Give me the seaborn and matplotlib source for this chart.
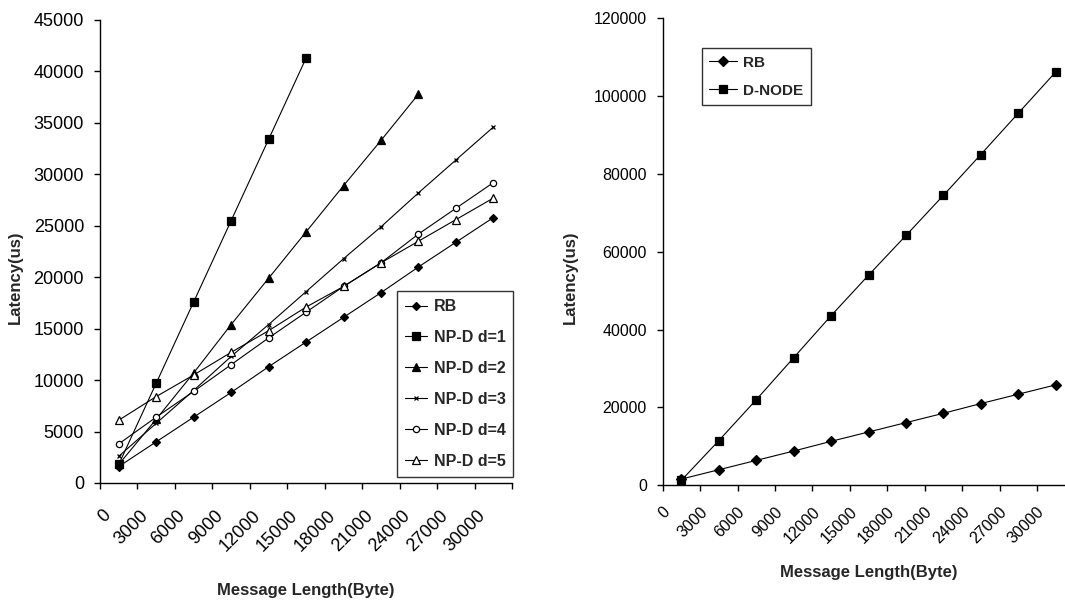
import matplotlib
matplotlib.use("Agg")
import matplotlib.pyplot as plt
import matplotlib.transforms as mtransforms
import seaborn as sns

# Message length (byte), points sit between the category ticks
msg_len = [1500, 4500, 7500, 10500, 13500, 16500, 19500, 22500, 25500, 28500, 31500]

# Latency (us)
rb = [1600, 4000, 6400, 8800, 11300, 13700, 16100, 18500, 21000, 23400, 25800]
npd1 = [1800, 9700, 17600, 25500, 33400, 41300]
npd2 = [1800, 6200, 10700, 15400, 19900, 24400, 28900, 33300, 37800]
npd3 = [2600, 5800, 9000, 12300, 15400, 18600, 21800, 24900, 28200, 31400, 34600]
npd4 = [3800, 6400, 8900, 11500, 14100, 16600, 19100, 21400, 24200, 26700, 29200]
npd5 = [6100, 8400, 10500, 12700, 14800, 17100, 19100, 21400, 23500, 25600, 27700]
dnode = [1300, 11500, 22000, 32800, 43600, 54000, 64200, 74500, 85000, 95600, 106200]

x_ticks = [0, 3000, 6000, 9000, 12000, 15000, 18000, 21000, 24000, 27000, 30000, 33000]
x_tick_labels = ["0", "3000", "6000", "9000", "12000", "15000", "18000",
                 "21000", "24000", "27000", "30000", ""]

sns.set_style("ticks")
plt.rcParams["font.family"] = ["Liberation Sans", "DejaVu Sans"]

fig = plt.figure(figsize=(10.65, 6.06), dpi=100)
ax1 = fig.add_axes([0.0939, 0.203, 0.387, 0.764])
ax2 = fig.add_axes([0.6223, 0.1992, 0.3865, 0.7706])


def draw(ax, y, label, marker, ms, mfc="black"):
    sns.lineplot(x=msg_len[:len(y)], y=y, ax=ax, color="black", lw=0.8,
                 marker=marker, markersize=ms, markerfacecolor=mfc,
                 markeredgecolor="black", markeredgewidth=0.9, label=label)


# -----------------------------
# Left chart
# -----------------------------
draw(ax1, rb, "RB", "D", 4.5)
draw(ax1, npd1, "NP-D d=1", "s", 5.5)
draw(ax1, npd2, "NP-D d=2", "^", 6)
draw(ax1, npd3, "NP-D d=3", "x", 3.5)
draw(ax1, npd4, "NP-D d=4", "o", 4.5, "white")
draw(ax1, npd5, "NP-D d=5", "^", 6, "white")

ax1.set_xlim(0, 33000)
ax1.set_ylim(0, 45000)
ax1.set_yticks(range(0, 45001, 5000))
ax1.set_yticklabels([str(v) for v in range(0, 45001, 5000)])

leg1 = ax1.legend(loc="lower right", bbox_to_anchor=(1.003, 0.013),
                  prop={"weight": "bold", "size": 11.5}, frameon=True,
                  fancybox=False, edgecolor="black", handlelength=1.4,
                  labelspacing=1.0, borderpad=0.5, handletextpad=0.4,
                  borderaxespad=0)
leg1.get_frame().set_linewidth(1.0)

# -----------------------------
# Right chart
# -----------------------------
draw(ax2, rb, "RB", "D", 5)
draw(ax2, dnode, "D-NODE", "s", 6)

ax2.set_xlim(0, 33000)
ax2.set_ylim(0, 120000)
ax2.set_yticks(range(0, 120001, 20000))
ax2.set_yticklabels([str(v) for v in range(0, 120001, 20000)])

leg2 = ax2.legend(loc="upper left", bbox_to_anchor=(0.095, 0.936),
                  prop={"weight": "bold", "size": 11}, frameon=True,
                  fancybox=False, edgecolor="black", handlelength=1.8,
                  labelspacing=0.9, borderpad=0.5, handletextpad=0.4,
                  borderaxespad=0)
leg2.get_frame().set_linewidth(1.0)

# -----------------------------
# Axes styling
# -----------------------------
for ax, fs, pad_x, dx, xl_y, yl_x in [(ax1, 13, 17, 8, -0.216, -0.187),
                                      (ax2, 11.5, 13, 5, -0.171, -0.207)]:
    ax.set_xticks(x_ticks)
    ax.set_xticklabels(x_tick_labels)
    sns.despine(ax=ax)
    for side in ["left", "bottom"]:
        ax.spines[side].set_linewidth(1.0)
        ax.spines[side].set_color("black")
    ax.tick_params(axis="y", length=4.5, width=1.0, pad=7, labelsize=fs, colors="black")
    ax.tick_params(axis="x", length=4.5, width=1.0, pad=pad_x, labelsize=fs,
                   colors="black")
    off = mtransforms.ScaledTranslation(dx / 100, 0, fig.dpi_scale_trans)
    for lab in ax.get_xticklabels():
        lab.set_rotation(45)
        lab.set_ha("right")
        lab.set_va("center")
        lab.set_rotation_mode("anchor")
        lab.set_transform(lab.get_transform() + off)
    ax.set_xlabel("Message Length(Byte)", fontweight="bold", fontsize=12)
    ax.set_ylabel("Latency(us)", fontweight="bold", fontsize=12)
    ax.xaxis.set_label_coords(0.5, xl_y)
    ax.yaxis.set_label_coords(yl_x, 0.445)
    ax.grid(False)

fig.savefig("out.png", dpi=100)
